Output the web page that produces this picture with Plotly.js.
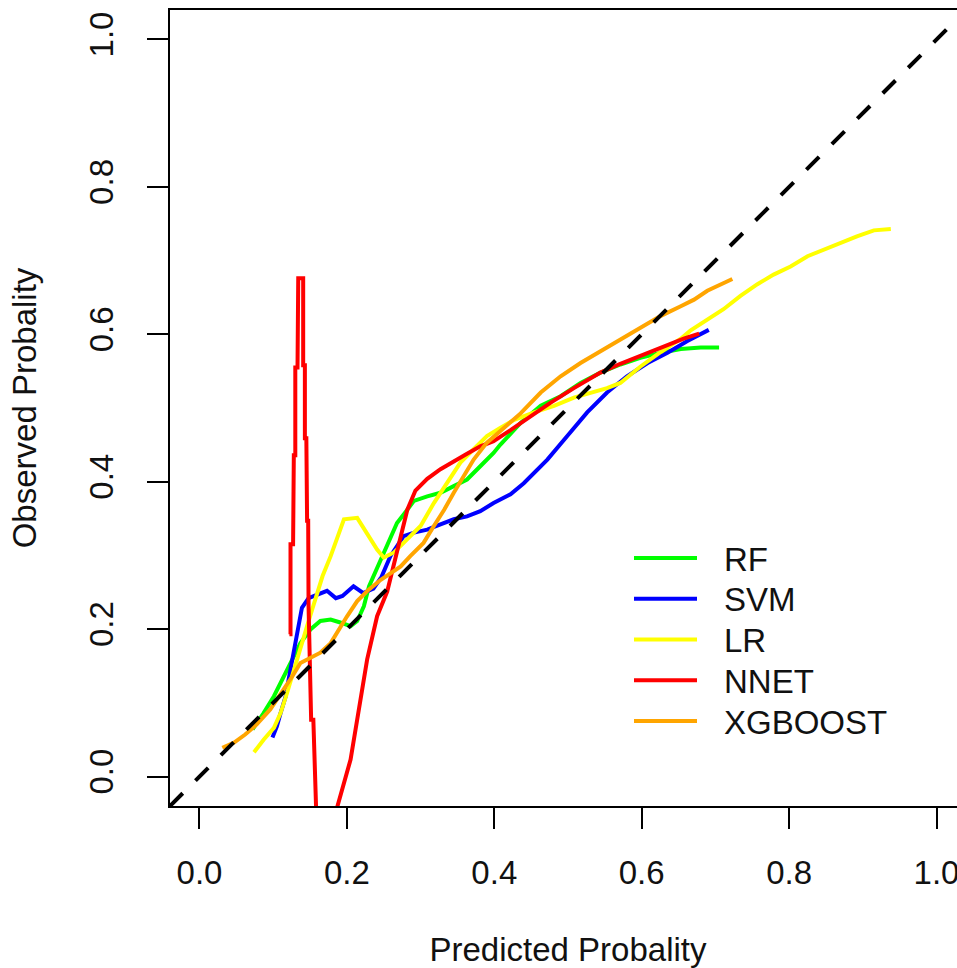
<!DOCTYPE html>
<html><head><meta charset="utf-8">
<script src="https://cdn.plot.ly/plotly-3.0.1.min.js"></script>
<style>
html,body{margin:0;padding:0;overflow:hidden;background:#fff;width:957px;height:968px}
#chart{width:968px;height:968px}
</style>
</head><body><div id="chart"></div>
<script>
const seriesNames = ['RF', 'SVM', 'LR', 'NNET', 'XGBOOST'];
const seriesColors = ['#00ff00', '#0000ff', '#ffff00', '#ff0000', '#ffa500'];

const rfX = [0.072,0.087,0.101,0.112,0.126,0.137,0.151,0.164,0.178,0.191,0.205,0.214,0.223,0.230,0.241,0.255,0.268,0.282,0.291,0.309,0.327,0.345,0.363,0.381,0.399,0.408,0.436,0.463,0.490,0.517,0.544,0.571,0.598,0.626,0.653,0.680,0.705];
const rfY = [0.064,0.086,0.109,0.132,0.159,0.181,0.200,0.211,0.213,0.209,0.204,0.211,0.231,0.258,0.283,0.3125,0.344,0.362,0.374,0.380,0.385,0.394,0.403,0.421,0.439,0.450,0.480,0.503,0.516,0.534,0.548,0.559,0.568,0.575,0.580,0.582,0.582];

const svmX = [0.099,0.105,0.110,0.117,0.121,0.126,0.130,0.135,0.139,0.148,0.160,0.173,0.185,0.194,0.209,0.222,0.236,0.247,0.259,0.271,0.277,0.291,0.309,0.327,0.345,0.363,0.381,0.399,0.408,0.422,0.440,0.458,0.472,0.499,0.526,0.553,0.580,0.608,0.635,0.662,0.691];
const svmY = [0.053,0.068,0.086,0.109,0.132,0.159,0.186,0.213,0.229,0.242,0.247,0.252,0.242,0.245,0.258,0.249,0.255,0.271,0.299,0.317,0.326,0.331,0.335,0.342,0.349,0.353,0.360,0.371,0.376,0.383,0.398,0.417,0.430,0.462,0.494,0.521,0.543,0.561,0.575,0.591,0.606];

const lrX = [0.074,0.087,0.101,0.110,0.119,0.128,0.137,0.146,0.153,0.160,0.167,0.178,0.187,0.196,0.214,0.228,0.241,0.250,0.264,0.282,0.300,0.318,0.336,0.354,0.372,0.390,0.408,0.427,0.454,0.481,0.508,0.535,0.553,0.571,0.598,0.626,0.653,0.666,0.689,0.711,0.734,0.757,0.779,0.802,0.825,0.847,0.870,0.892,0.915,0.938];
const lrY = [0.033,0.050,0.066,0.086,0.114,0.145,0.177,0.204,0.227,0.249,0.272,0.299,0.326,0.349,0.351,0.328,0.308,0.297,0.304,0.322,0.340,0.371,0.399,0.426,0.444,0.462,0.473,0.484,0.494,0.503,0.514,0.521,0.527,0.534,0.556,0.576,0.594,0.605,0.620,0.634,0.652,0.668,0.681,0.692,0.706,0.715,0.724,0.733,0.741,0.743];

const nnetX = [0.122,0.1235,0.1235,0.127,0.128,0.130,0.130,0.133,0.134,0.1407,0.1407,0.143,0.143,0.145,0.146,0.1475,0.148,0.1515,0.1545,0.157,0.160,0.166,0.175,0.187,0.205,0.2275,0.241,0.2547,0.264,0.273,0.282,0.293,0.309,0.327,0.345,0.363,0.381,0.399,0.422,0.449,0.476,0.508,0.544,0.571,0.598,0.626,0.657,0.678];
const nnetY = [0.193,0.193,0.315,0.315,0.436,0.436,0.555,0.555,0.676,0.676,0.558,0.558,0.459,0.459,0.347,0.347,0.231,0.077,0.077,-0.05,-0.10,-0.12,-0.10,-0.041,0.023,0.159,0.2175,0.251,0.290,0.330,0.362,0.388,0.404,0.417,0.428,0.438,0.448,0.455,0.470,0.489,0.507,0.527,0.548,0.560,0.571,0.581,0.594,0.601];

const xgbX = [0.031,0.047,0.062,0.078,0.096,0.112,0.126,0.137,0.151,0.164,0.178,0.189,0.200,0.214,0.228,0.246,0.259,0.273,0.286,0.304,0.318,0.332,0.345,0.359,0.372,0.390,0.408,0.436,0.463,0.490,0.517,0.544,0.571,0.598,0.626,0.653,0.671,0.689,0.707,0.723];
const xgbY = [0.039,0.046,0.057,0.071,0.091,0.114,0.136,0.154,0.161,0.168,0.181,0.200,0.217,0.238,0.252,0.267,0.276,0.285,0.299,0.317,0.340,0.362,0.385,0.408,0.430,0.453,0.468,0.493,0.521,0.543,0.561,0.577,0.593,0.609,0.625,0.638,0.647,0.659,0.668,0.675];

const tickValues = [0, 0.2, 0.4, 0.6, 0.8, 1.0];
const tickLabels = ['0.0', '0.2', '0.4', '0.6', '0.8', '1.0'];
const axisRange = [-0.04, 1.04];
const xTitle = 'Predicted Probality';
const yTitle = 'Observed Probality';

const seriesX = [rfX, svmX, lrX, nnetX, xgbX];
const seriesY = [rfY, svmY, lrY, nnetY, xgbY];

const FONT = 'Liberation Sans, Arial, Helvetica, sans-serif';
const traces = seriesNames.map((n, i) => ({
  type: 'scatter', mode: 'lines', name: n,
  x: seriesX[i], y: seriesY[i],
  line: {color: seriesColors[i], width: 4},
  showlegend: false, hoverinfo: 'skip'
}));
traces.push({
  type: 'scatter', mode: 'lines', x: axisRange, y: axisRange,
  line: {color: '#000', width: 4, dash: '18px,18px'},
  showlegend: false, hoverinfo: 'skip'
});

// legend (drawn as keys + labels, built from names/colors)
const W = 968, H = 968, mL = 170, mR = 2, mT = 10, mB = 162;
const pw = W - mL - mR, ph = H - mT - mB;
const px2x = p => (p - mL) / pw;
const py2y = p => (H - mB - p) / ph;
const shapes = [], annotations = [];
seriesNames.forEach((n, i) => {
  const rowY = 558 + i * 40.75;
  shapes.push({type: 'line', xref: 'paper', yref: 'paper',
    x0: px2x(634), x1: px2x(697), y0: py2y(rowY), y1: py2y(rowY),
    line: {color: seriesColors[i], width: 4}});
  annotations.push({xref: 'paper', yref: 'paper', x: px2x(722), y: py2y(rowY + 1),
    xanchor: 'left', yanchor: 'middle', text: n, showarrow: false,
    font: {family: FONT, size: 33, color: '#111'}});
});

const axisCommon = {
  range: axisRange, tickvals: tickValues, ticktext: tickLabels,
  ticks: 'outside', ticklen: 21, tickwidth: 2, tickcolor: '#000',
  showline: true, linewidth: 2, linecolor: '#000', mirror: true,
  showgrid: false, zeroline: false,
  tickfont: {family: FONT, size: 33, color: '#111'}
};

const layout = {
  width: W, height: H,
  margin: {l: mL, r: mR, t: mT, b: mB, pad: 0},
  paper_bgcolor: '#fff', plot_bgcolor: '#fff',
  showlegend: false,
  xaxis: Object.assign({}, axisCommon, {
    ticklabelstandoff: 15,
    title: {text: xTitle, font: {family: FONT, size: 33, color: '#111'}, standoff: 52}
  }),
  yaxis: Object.assign({}, axisCommon, {
    tickangle: -90, ticklabelstandoff: 21,
    title: {text: yTitle, font: {family: FONT, size: 33, color: '#111'}, standoff: 36}
  }),
  shapes: shapes, annotations: annotations
};

Plotly.newPlot('chart', traces, layout, {staticPlot: true, displayModeBar: false});
</script></body></html>
